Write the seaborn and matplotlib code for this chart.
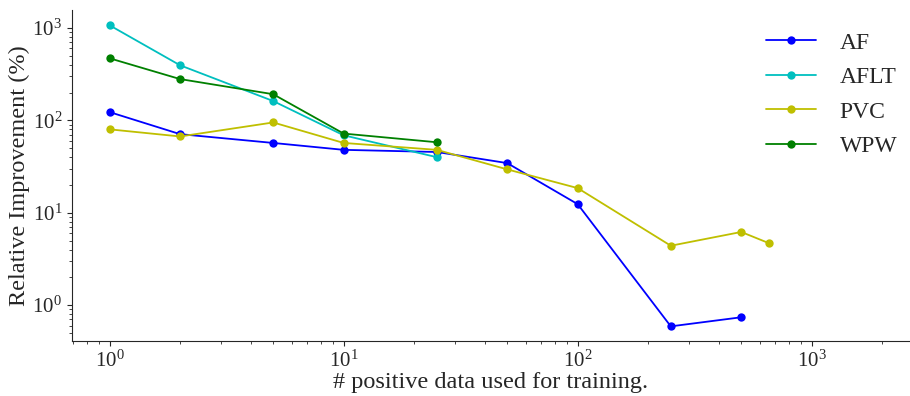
import pandas as pd
import matplotlib
matplotlib.use("Agg")
import matplotlib.pyplot as plt
import seaborn as sns

# values
af_x = [1, 2, 5, 10, 25, 50, 100, 250, 500]
af_y = [123, 71, 57, 48, 45.5, 34.5, 12.4, 0.59, 0.74]
aflt_x = [1, 2, 5, 10, 25]
aflt_y = [1070, 395, 162, 69, 40]
pvc_x = [1, 2, 5, 10, 25, 50, 100, 250, 500, 655]
pvc_y = [80, 67, 95, 57, 48, 29.5, 18.5, 4.4, 6.2, 4.7]
wpw_x = [1, 2, 5, 10, 25]
wpw_y = [470, 280, 192, 72, 58]

series = {"AF": (af_x, af_y), "AFLT": (aflt_x, aflt_y),
          "PVC": (pvc_x, pvc_y), "WPW": (wpw_x, wpw_y)}
rows = []
for name, (xs, ys) in series.items():
    for x, y in zip(xs, ys):
        rows.append({"n": x, "imp": y, "label": name})
df = pd.DataFrame(rows)

sns.set_style("ticks")
plt.rcParams['font.family'] = ['Liberation Serif', 'DejaVu Serif']
plt.rcParams['mathtext.fontset'] = 'custom'
plt.rcParams['mathtext.rm'] = 'Liberation Serif'
plt.rcParams['mathtext.it'] = 'Liberation Serif:italic'

fig = plt.figure(figsize=(9.1, 3.96), dpi=100)
ax = fig.add_axes([0.079, 0.139, 0.921, 0.836])

palette = {"AF": "b", "AFLT": "c", "PVC": "y", "WPW": "g"}
sns.lineplot(data=df, x="n", y="imp", hue="label", palette=palette,
             marker="o", markersize=6, markeredgewidth=0, linewidth=1.3,
             ax=ax, sort=False)

ax.set_xscale("log")
ax.set_yscale("log")
ax.set_xlim(0.69, 2630)
ax.set_ylim(0.41, 1570)
sns.despine(ax=ax)

ax.set_xlabel("# positive data used for training.", fontsize=17.5, labelpad=0)
ax.set_ylabel("Relative Improvement (%)", fontsize=17.5, labelpad=2)
ax.tick_params(labelsize=15)

leg = ax.legend(loc="upper right", frameon=False, fontsize=17,
                handlelength=2.1, handletextpad=1.0, labelspacing=0.55,
                bbox_to_anchor=(1.01, 0.997))

plt.savefig("out.png", dpi=100)
